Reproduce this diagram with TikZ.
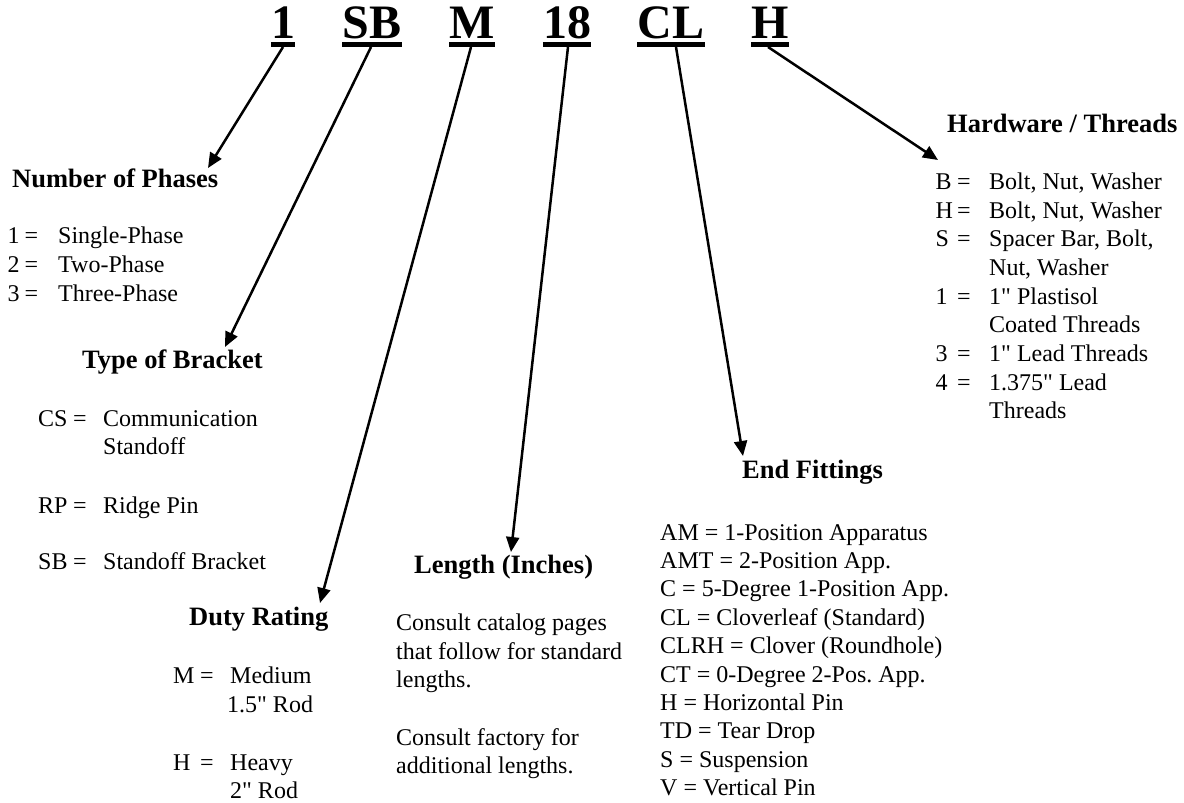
\documentclass[tikz,border=0pt]{standalone}
\usepackage{fontspec}
\setmainfont{Liberation Serif}[Ligatures=TeXOff]
\usetikzlibrary{arrows.meta}
\frenchspacing
\tikzset{
  codetitle/.style={font=\fontsize{48}{56}\selectfont\bfseries, inner sep=0pt, anchor=base},
  head/.style={font=\fontsize{26.5}{31}\selectfont\bfseries, inner sep=0pt, anchor=base west},
  body/.style={font=\fontsize{24}{28.7}\selectfont, inner sep=0pt, anchor=base west},
  pointer/.style={line width=2.5pt, -{Triangle[length=15pt,width=13pt]}},
  uline/.style={line width=5pt}
}
\begin{document}
\begin{tikzpicture}[x=1pt,y=-1pt]
\useasboundingbox (0,0) rectangle (1184,803);
\fill[white] (0,0) rectangle (1184,803);

% code letters
\node[codetitle] (c1) at (283,38) {1};
\node[codetitle] (c2) at (372,38) {SB};
\node[codetitle] (c3) at (472,38) {M};
\node[codetitle] (c4) at (567,38) {18};
\node[codetitle] (c5) at (671,38) {CL};
\node[codetitle] (c6) at (770,38) {H};
\foreach \n in {c1,c2,c3,c4,c5,c6}
  \draw[uline] ([yshift=-6.5pt]\n.base west) -- ([yshift=-6.5pt]\n.base east);

% arrow start and end points
\coordinate (s1) at (283,47);
\coordinate (s2) at (371,47);
\coordinate (s3) at (471,47);
\coordinate (s4) at (568,47);
\coordinate (s5) at (676,47);
\coordinate (s6) at (768,47);
\coordinate (e1) at (208,168);
\coordinate (e2) at (225,347);
\coordinate (e3) at (320,603);
\coordinate (e4) at (511,552);
\coordinate (e5) at (743,456);
\coordinate (e6) at (938,160);
\foreach \i in {1,...,6} \draw[pointer] (s\i) -- (e\i);

% Number of Phases
\node[head] (hph) at (12,187) {Number of Phases};
\node[body] (p1k) at (7.5,243) {1};
\node[body] (p1e) at (24.5,243) {=};
\node[body] (p1v) at (58,243) {Single-Phase};
\node[body] (p2k) at (7.5,272) {2};
\node[body] (p2e) at (24.5,272) {=};
\node[body] (p2v) at (58,272) {Two-Phase};
\node[body] (p3k) at (7.5,301) {3};
\node[body] (p3e) at (24.5,301) {=};
\node[body] (p3v) at (58,301) {Three-Phase};

% Type of Bracket
\node[head] (hbr) at (82,368) {Type of Bracket};
\node[body] (b1k) at (38,426) {CS};
\node[body] (b1e) at (73,426) {=};
\node[body] (b1v) at (103,426) {Communication};
\node[body] (b1w) at (103,454) {Standoff};
\node[body] (b2k) at (38,513) {RP};
\node[body] (b2e) at (73,513) {=};
\node[body] (b2v) at (103,513) {Ridge Pin};
\node[body] (b3k) at (38,569) {SB};
\node[body] (b3e) at (73,569) {=};
\node[body] (b3v) at (103,569) {Standoff Bracket};

% Duty Rating
\node[head] (hdu) at (189,625) {Duty Rating};
\node[body] (d1k) at (173,683) {M};
\node[body] (d1e) at (200,683) {=};
\node[body] (d1v) at (230,683) {Medium};
\node[body] (d1w) at (227,712) {1.5" Rod};
\node[body] (d2k) at (173,770) {H};
\node[body] (d2e) at (200,770) {=};
\node[body] (d2v) at (230,770) {Heavy};
\node[body] (d2w) at (230,798) {2" Rod};

% Length
\node[head] (hle) at (414,573) {Length (Inches)};
\node[body] (l1) at (396,630) {Consult catalog pages};
\node[body] (l2) at (396,659) {that follow for standard};
\node[body] (l3) at (396,687) {lengths.};
\node[body] (l4) at (396,745) {Consult factory for};
\node[body] (l5) at (396,773) {additional lengths.};

% End Fittings
\node[head] (hef) at (742,478) {End Fittings};
\foreach \t [count=\i from 0] in {{AM = 1-Position Apparatus},{AMT = 2-Position App.},{C = 5-Degree 1-Position App.},{CL = Cloverleaf (Standard)},{CLRH = Clover (Roundhole)},{CT = 0-Degree 2-Pos. App.},{H = Horizontal Pin},{TD = Tear Drop},{S = Suspension},{V = Vertical Pin}}
  \node[body] (ef\i) at (660,{540+28.4*\i}) {\t};

% Hardware / Threads
\node[head] (hhw) at (947,132) {Hardware / Threads};
\node[body] (h1k) at (935.5,189) {B};
\node[body] (h1e) at (957,189) {=};
\node[body] (h1v) at (989,189) {Bolt, Nut, Washer};
\node[body] (h2k) at (935.5,218) {H};
\node[body] (h2e) at (957,218) {=};
\node[body] (h2v) at (989,218) {Bolt, Nut, Washer};
\node[body] (h3k) at (935.5,246) {S};
\node[body] (h3e) at (957,246) {=};
\node[body] (h3v) at (989,246) {Spacer Bar, Bolt,};
\node[body] (h3w) at (989,275) {Nut, Washer};
\node[body] (h4k) at (935.5,304) {1};
\node[body] (h4e) at (957,304) {=};
\node[body] (h4v) at (989,304) {1" Plastisol};
\node[body] (h4w) at (989,332) {Coated Threads};
\node[body] (h5k) at (935.5,361) {3};
\node[body] (h5e) at (957,361) {=};
\node[body] (h5v) at (989,361) {1" Lead Threads};
\node[body] (h6k) at (935.5,390) {4};
\node[body] (h6e) at (957,390) {=};
\node[body] (h6v) at (989,390) {1.375" Lead};
\node[body] (h6w) at (989,418) {Threads};
\end{tikzpicture}
\end{document}
